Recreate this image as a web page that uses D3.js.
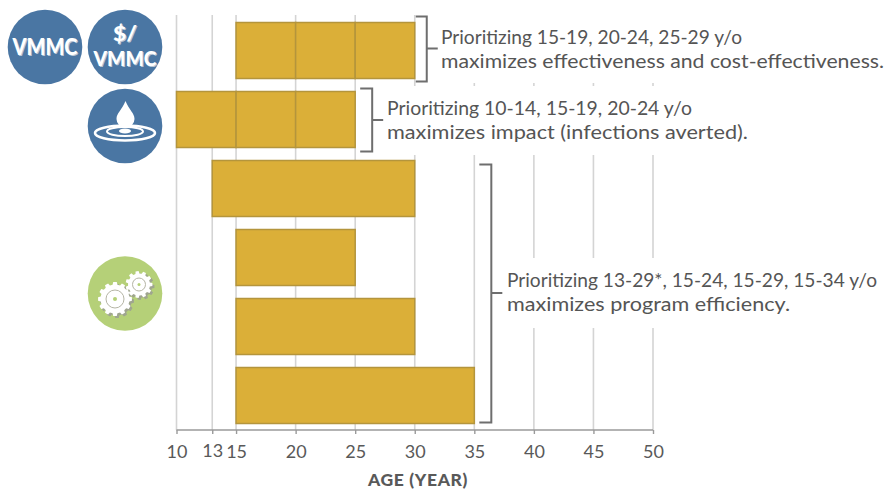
<!DOCTYPE html>
<html><head><meta charset="utf-8">
<script src="https://cdn.jsdelivr.net/npm/d3@7"></script>
<style>html,body{margin:0;padding:0;background:#fff}svg{display:block}text{font-family:Lato,"Open Sans",sans-serif}</style>
</head><body><div id="c"></div>
<script>
const rowNames = ["r1","r2","r3","r4","r5","r6"];
const rowBreaks = [[15,20,25,30],[10,15,20,25],[13,30],[15,25],[15,30],[15,35]];
const tickValues = [10,13,15,20,25,30,35,40,45,50];
const axisTitle = "AGE (YEAR)";
const notes = [
  {lines:["Prioritizing 15-19, 20-24, 25-29 y/o","maximizes effectiveness and cost-effectiveness."], from:0, to:0, endAge:30},
  {lines:["Prioritizing 10-14, 15-19, 20-24 y/o","maximizes impact (infections averted)."], from:1, to:1, endAge:25},
  {lines:["Prioritizing 13-29*, 15-24, 15-29, 15-34 y/o","maximizes program efficiency."], from:2, to:5, endAge:35}
];
const W=886,H=489;
const svg=d3.select("#c").append("svg").attr("width",W).attr("height",H).attr("viewBox",[0,0,W,H]);
const x=d3.scaleLinear().domain([10,50]).range([176.5,653]);
const y=d3.scaleBand().domain(rowNames).range([16,430]).paddingInner(13/69).paddingOuter(13/138);
const axisY=430,gridTop=15;

// gridlines
svg.append("g").selectAll("line").data(tickValues).join("line")
  .attr("x1",d=>x(d)).attr("x2",d=>x(d)).attr("y1",gridTop).attr("y2",axisY)
  .attr("stroke","#d4d4d4").attr("stroke-width",1.6);

// masks behind notes
const masks=[[440,0,446,83],[373,86,513,69],[505,258,381,70]];
svg.append("g").selectAll("rect").data(masks).join("rect")
  .attr("x",d=>d[0]).attr("y",d=>d[1]).attr("width",d=>d[2]).attr("height",d=>d[3]).attr("fill","#fff");

// bars
const segs=rowBreaks.flatMap((b,i)=>d3.pairs(b).map(([a,c])=>({row:rowNames[i],a,c})));
svg.append("g").selectAll("rect").data(segs).join("rect")
  .attr("x",d=>x(d.a)).attr("width",d=>x(d.c)-x(d.a))
  .attr("y",d=>y(d.row)).attr("height",y.bandwidth())
  .attr("fill","#dbaf38").attr("stroke","#b4953c").attr("stroke-width",1.5);

// axis
const axis=d3.axisBottom(x).tickValues(tickValues).tickSize(4).tickPadding(0).tickFormat(d3.format("d"));
const gA=svg.append("g").attr("transform",`translate(0,${axisY})`).call(axis);
gA.select(".domain").attr("stroke","#9a9a9a").attr("stroke-width",1.6).attr("d",`M${x(10)},0H${x(50)}`);
gA.selectAll(".tick line").attr("stroke","#9a9a9a").attr("stroke-width",1.4);
gA.selectAll(".tick text").attr("fill","#595959").attr("font-size",18)
  .attr("dy",null).attr("y",28).attr("font-family","Lato");
gA.selectAll(".tick").filter(d=>d===13).select("text").attr("y",27);
svg.append("text").attr("x",418).attr("y",486).attr("text-anchor","middle")
  .attr("fill","#595959").attr("font-weight",900).attr("font-size",17.5).attr("letter-spacing",0.6).text(axisTitle);

// brackets + notes
const offs=[{top:-6,bot:3,tx:441,b1:44,mid:48.5},{top:-3,bot:4,tx:387,b1:115,mid:120},{top:4,bot:-1,tx:507,b1:287,mid:293}];
const widths=[[301,443],[305,361],[370,283]];
notes.forEach((n,i)=>{
  const o=offs[i];
  const top=y(rowNames[n.from])+o.top, bot=y(rowNames[n.to])+y.bandwidth()+o.bot;
  const xl=x(n.endAge)+(i==0?1:5), xr=x(n.endAge)+(i==0?12:17);
  svg.append("path").attr("fill","none").attr("stroke","#6e6e6e").attr("stroke-width",2)
    .attr("d",`M${xl},${top}H${xr}V${bot}H${xl}M${xr},${o.mid}H${xr+11}`);
  const t=svg.append("g").attr("fill","#555").attr("font-size",19.5);
  n.lines.forEach((l,k)=>t.append("text").attr("x",o.tx).attr("y",o.b1+k*23.5)
    .attr("textLength",widths[i][k]).attr("lengthAdjust","spacingAndGlyphs").text(l));
});

// icons
const blue="#4a76a3",green="#b5d078";
const icons=svg.append("g");
icons.selectAll("circle").data([[45,47,blue],[125,47,blue],[125,126,blue],[125,293.5,green]]).join("circle")
  .attr("cx",d=>d[0]).attr("cy",d=>d[1]).attr("r",37.3).attr("fill",d=>d[2]);
function label(s,cx,base,size,len){
  icons.append("text").attr("x",cx).attr("y",base).attr("text-anchor","middle")
    .attr("fill","#fff").attr("font-weight",900).attr("font-size",size)
    .style("text-shadow","1px 1px 0 #b9c6d6")
    .attr("textLength",len).attr("lengthAdjust","spacingAndGlyphs").text(s);
}
label("VMMC",45,55,22,65);
label("VMMC",125,66,20,63);
label("$/",125,41,21,24);
// drop
icons.append("path").attr("fill","#fff")
  .attr("d","M125.5,101C122,110 116.5,113 116.5,119A9,9 0 0 0 134.5,119C134.5,113 129,110 125.5,101Z");
icons.append("ellipse").attr("cx",125).attr("cy",133).attr("rx",30).attr("ry",7.5).attr("fill","none").attr("stroke","#fff").attr("stroke-width",2.6);
icons.append("ellipse").attr("cx",125).attr("cy",131.5).attr("rx",18).attr("ry",4.5).attr("fill","none").attr("stroke","#fff").attr("stroke-width",2);
icons.append("ellipse").attr("cx",125).attr("cy",131).attr("rx",6).attr("ry",2.5).attr("fill","#fff");
// gears
function gear(cx,cy,ro,ri,n){
  const p=[];const st=2*Math.PI/n;
  for(let i=0;i<n;i++){const a=i*st;
    [[-.32,ri],[-.2,ro],[.2,ro],[.32,ri]].forEach(([f,r])=>{
      const t=a+f*st;p.push([cx+r*Math.cos(t),cy+r*Math.sin(t)]);
    });}
  return d3.line().curve(d3.curveLinearClosed)(p);
}
[[115,299,17,14.5,12,9,2],[139,284.5,13.5,11,11,6.5,1.5]].forEach(([cx,cy,ro,ri,n,ring,dot])=>{
  icons.append("path").attr("d",gear(cx+2,cy+2,ro,ri,n)).attr("fill","#9fa58f");
  icons.append("path").attr("d",gear(cx,cy,ro,ri,n)).attr("fill","#fff");
  icons.append("circle").attr("cx",cx).attr("cy",cy).attr("r",ring).attr("fill","none").attr("stroke","#b5b5a5").attr("stroke-width",1);
  icons.append("circle").attr("cx",cx).attr("cy",cy).attr("r",dot).attr("fill","#b5d078");
});
</script></body></html>
